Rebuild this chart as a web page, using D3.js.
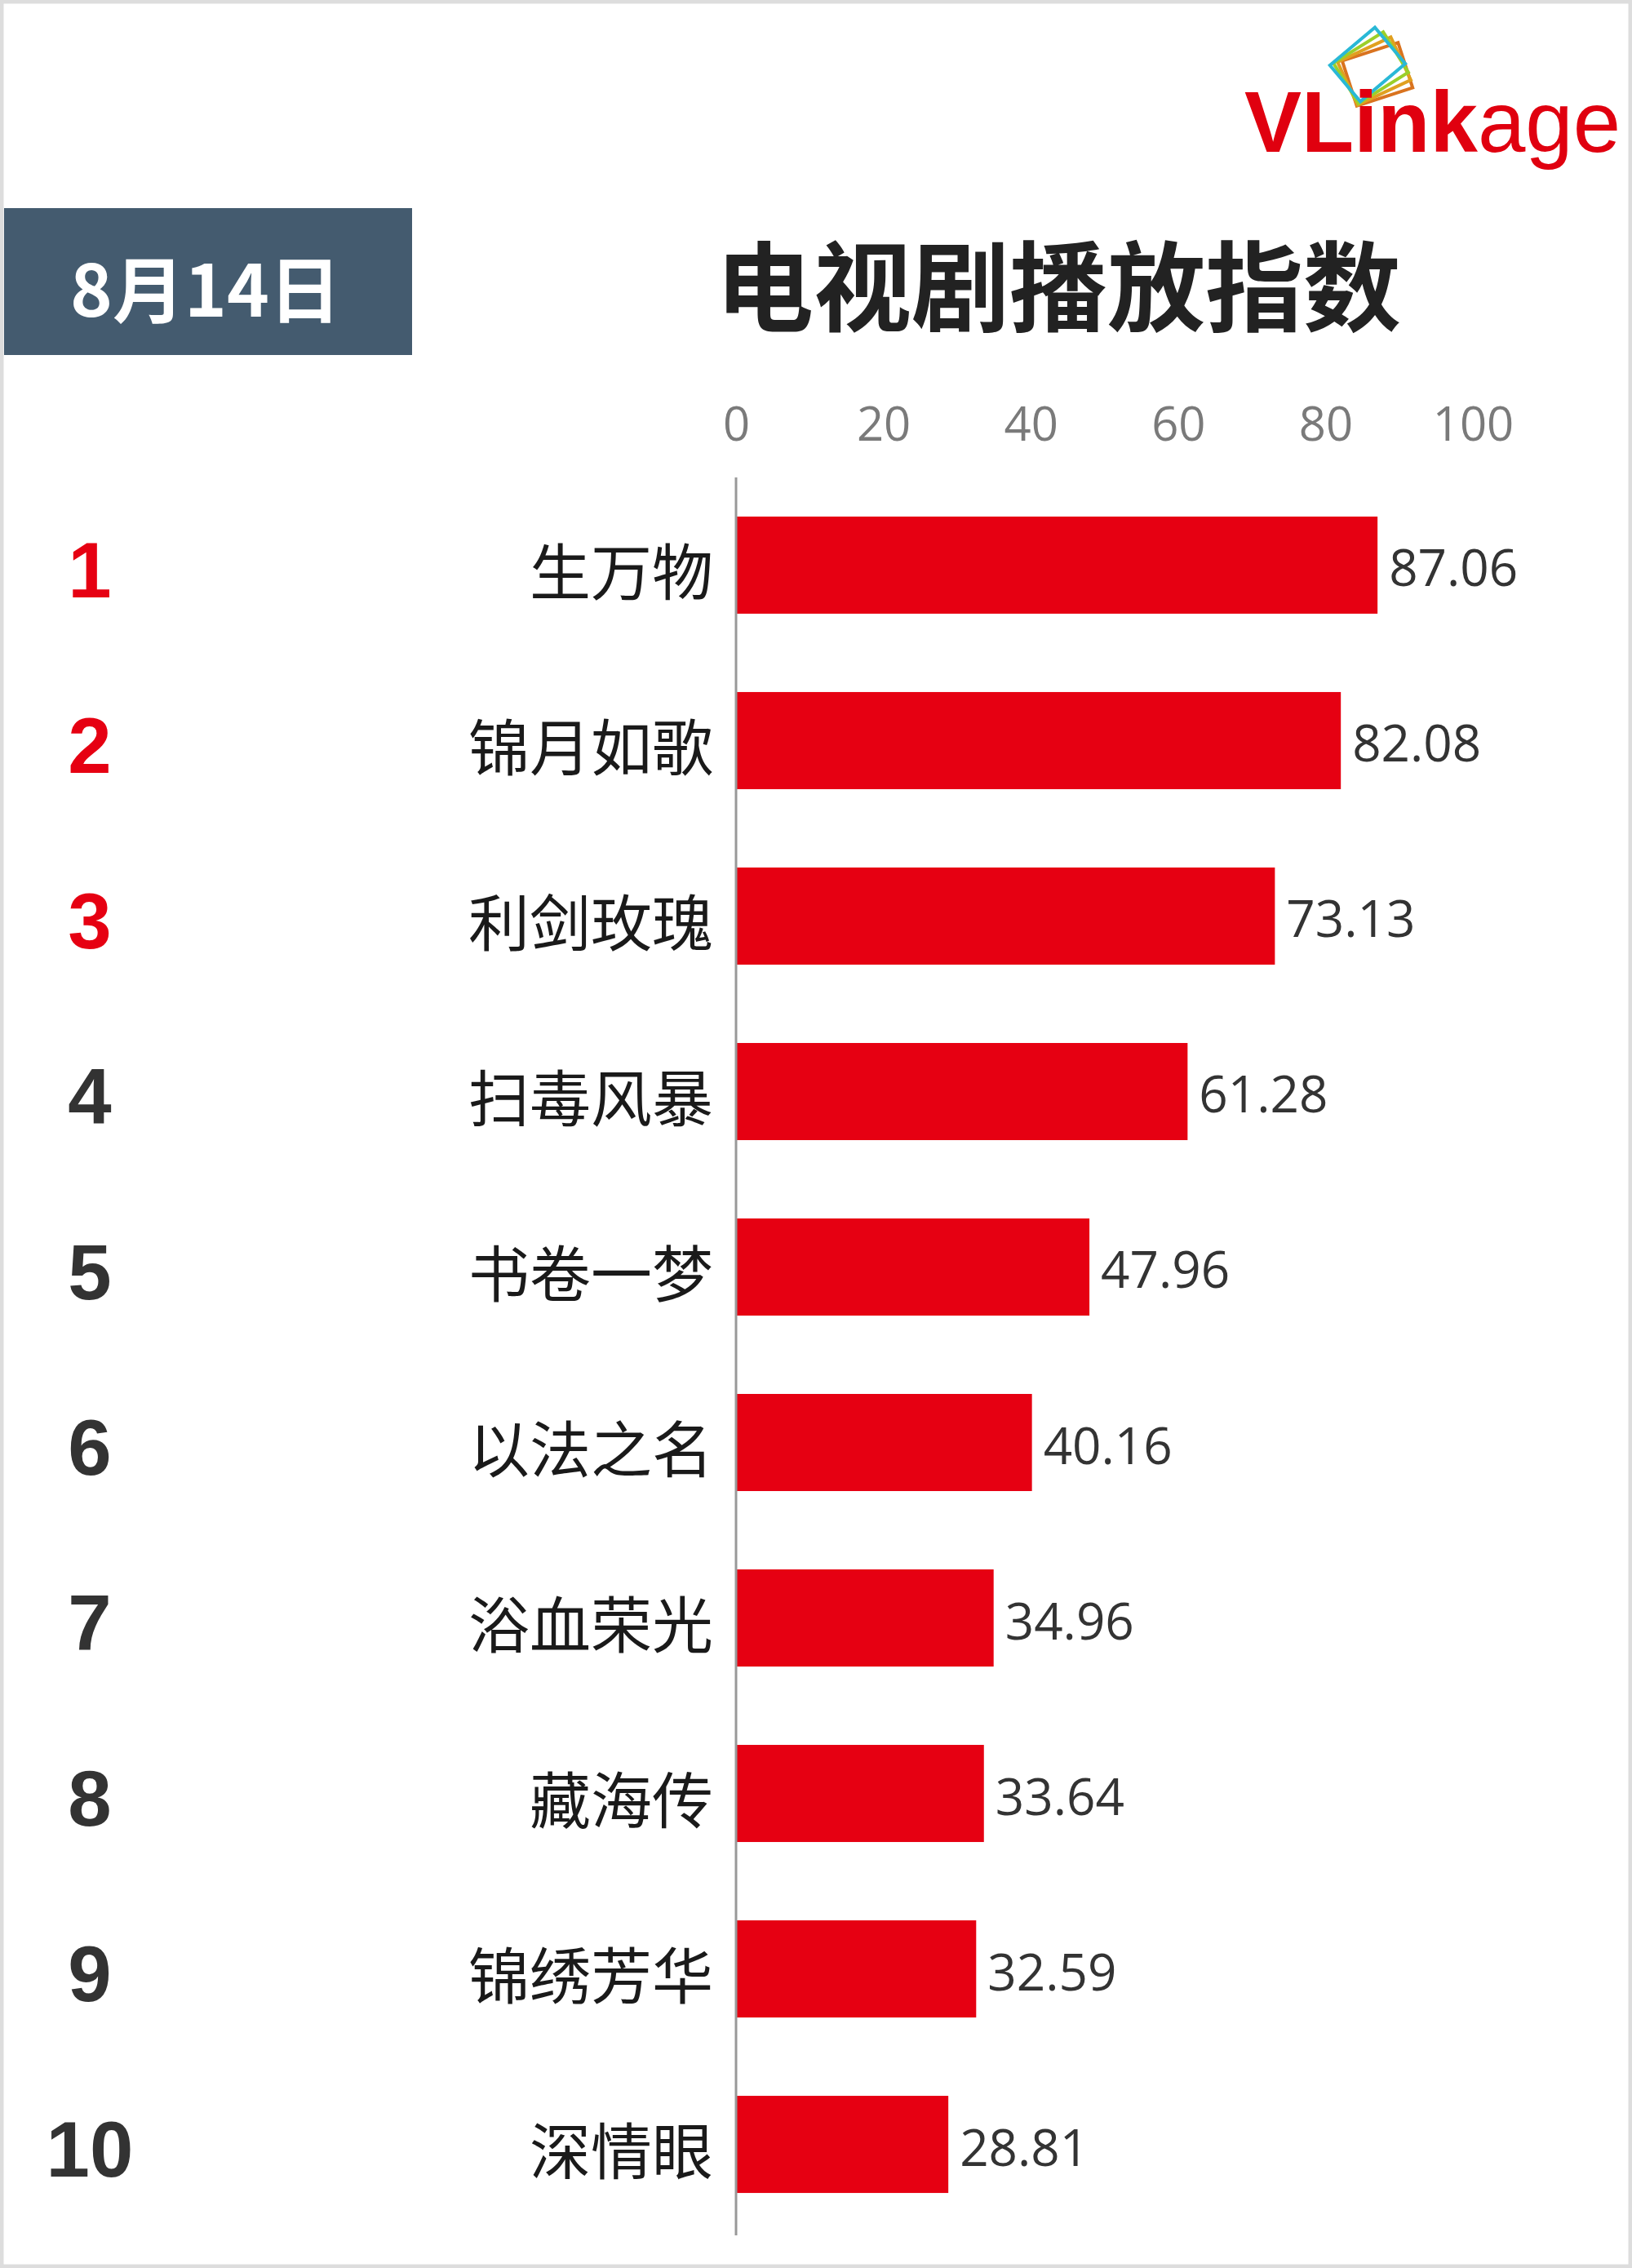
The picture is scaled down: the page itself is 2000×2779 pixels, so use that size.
<!DOCTYPE html><html><head><meta charset="utf-8"><script src="https://cdn.jsdelivr.net/npm/d3@7"></script>
<style>body{margin:0;background:#fff}</style></head><body><svg id="c" width="2000" height="2779"></svg>
<script>
const categories=["生万物","锦月如歌","利剑玫瑰","扫毒风暴","书卷一梦","以法之名","浴血荣光","藏海传","锦绣芳华","深情眼"];
const values=[87.06,82.08,73.13,61.28,47.96,40.16,34.96,33.64,32.59,28.81];
const ranks=["1","2","3","4","5","6","7","8","9","10"];
const ticks=[0,20,40,60,80,100];
const dateLabel="8月14日", title="电视剧播放指数";
const svg=d3.select("#c");
const F="'Noto Sans CJK SC','Noto Sans',sans-serif";
svg.append("rect").attr("x",2).attr("y",2).attr("width",1996).attr("height",2775).attr("fill","#fff").attr("stroke","#ddd").attr("stroke-width",5);
const lg=svg.append("g");
[["#d9731f",1652,62,-18],["#e0a020",1648,58,-25],["#9bcf2a",1644,54,-32],["#29b8d6",1640,50,-40]].forEach(([c,x,y,r])=>{
 lg.append("rect").attr("x",x).attr("y",y).attr("width",72).attr("height",58).attr("fill","none").attr("stroke",c).attr("stroke-width",4).attr("transform",`rotate(${r},${x+36},${y+29})`);});
const lt=lg.append("text").attr("x",1525).attr("y",186).attr("font-family","'Liberation Sans',Arial,sans-serif").attr("font-size",105).attr("fill","#e0000f");
lt.append("tspan").attr("font-weight","bold").text("VLink");lt.append("tspan").text("age");
svg.append("rect").attr("x",5).attr("y",255).attr("width",500).attr("height",180).attr("fill","#445b6f");
svg.append("text").attr("x",252).attr("y",349).attr("text-anchor","middle").attr("dominant-baseline","central").attr("font-family",F).attr("font-weight","bold").attr("font-size",88).attr("fill","#fff").text(dateLabel);
svg.append("text").attr("x",1297).attr("y",345).attr("text-anchor","middle").attr("dominant-baseline","central").attr("font-family",F).attr("font-weight","bold").attr("font-size",120).attr("fill","#222").text(title);
const x=d3.scaleLinear().domain([0,100]).range([902,1805]);
const y=d3.scaleBand().domain(categories).range([585,2735]).paddingInner(0.4465).paddingOuter(0.223);
const ax=svg.append("g").attr("transform","translate(0,540)").call(d3.axisTop(x).tickValues(ticks).tickSize(0).tickPadding(0));
ax.select(".domain").remove();
ax.selectAll("text").attr("font-family","'Open Sans',sans-serif").attr("font-size",58).attr("fill","#7a7a7a");
svg.selectAll(".bar").data(values).enter().append("rect").attr("x",x(0)).attr("y",(d,i)=>y(categories[i])).attr("width",d=>x(d)-x(0)).attr("height",y.bandwidth()).attr("fill","#e60012");
svg.append("line").attr("x1",x(0)).attr("x2",x(0)).attr("y1",585).attr("y2",2739).attr("stroke","#999").attr("stroke-width",3);
svg.selectAll(".val").data(values).enter().append("text").attr("x",d=>x(d)+14).attr("y",(d,i)=>y(categories[i])+y.bandwidth()/2+2).attr("dominant-baseline","central").attr("font-family","'Open Sans',sans-serif").attr("font-size",62).attr("fill","#333").text(d=>d.toFixed(2));
svg.selectAll(".cat").data(categories).enter().append("text").attr("x",874).attr("y",d=>y(d)+y.bandwidth()/2+4).attr("text-anchor","end").attr("dominant-baseline","central").attr("font-family",F).attr("font-size",75).attr("fill","#1a1a1a").text(d=>d);
svg.selectAll(".rk").data(ranks).enter().append("text").attr("x",110).attr("y",(d,i)=>y(categories[i])+y.bandwidth()/2+6).attr("text-anchor","middle").attr("dominant-baseline","central").attr("font-family","'Liberation Sans',Arial,sans-serif").attr("font-weight","bold").attr("font-size",96).attr("fill",(d,i)=>i<3?"#e60012":"#333").text(d=>d);
</script></body></html>
